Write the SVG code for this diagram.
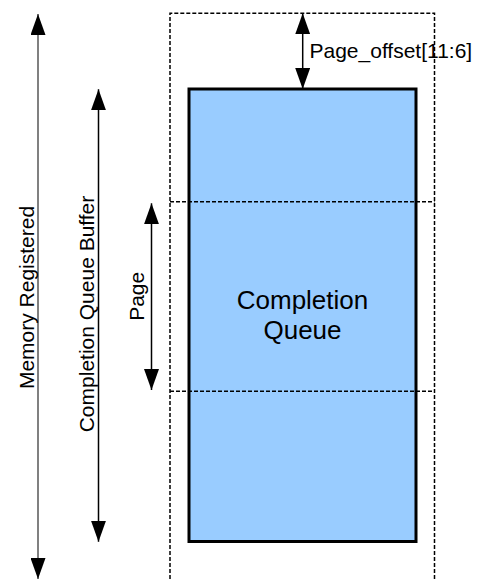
<svg xmlns="http://www.w3.org/2000/svg" width="477" height="579" viewBox="0 0 477 579">
  <style>
    text { font-family: "Liberation Sans", Arial, sans-serif; fill: #000; }
    .lbl { font-size: 21px; }
    .big { font-size: 26px; text-anchor: middle; }
    .dash { fill: none; stroke: #000; stroke-width: 1.5; stroke-dasharray: 4 2; }
    .arr { stroke: #000; stroke-width: 1.5; fill: none; marker-start: url(#ah); marker-end: url(#ah); }
    .gray { stroke: #808080; stroke-width: 2; }
  </style>
  <defs>
    <marker id="ah" markerUnits="userSpaceOnUse" markerWidth="21" markerHeight="15" viewBox="0 0 21 15" refX="21" refY="7.5" orient="auto-start-reverse">
      <path d="M0,0 L21,7.5 L0,15 z" fill="#000"/>
    </marker>
  </defs>

  <g id="completion-queue">
    <rect x="189" y="89" width="227" height="452.5" fill="#99ccff" stroke="#000" stroke-width="3"/>
    <text class="big" x="302.5" y="308.5">Completion</text>
    <text class="big" x="302.5" y="339">Queue</text>
  </g>

  <g id="page-offset-label">
    <text class="lbl" x="309.5" y="58">Page_offset[11:6]</text>
  </g>

  <g id="memory-registered-region">
    <path class="dash" d="M170,579 V13.3 H434.5 V579"/>
  </g>
  <g id="page-boundaries">
    <line class="dash" x1="170" y1="201.7" x2="434.5" y2="201.7"/>
    <line class="dash" x1="170" y1="391.3" x2="434.5" y2="391.3"/>
  </g>

  <g id="connectors">
    <line class="arr" x1="302.7" y1="13.3" x2="302.7" y2="89"/>
    <line class="arr gray" x1="38" y1="14" x2="38" y2="579"/>
    <line class="arr" x1="98.5" y1="89.3" x2="98.5" y2="541.7"/>
    <line class="arr" x1="151.5" y1="203.3" x2="151.5" y2="390"/>
  </g>

  <g id="labels">
    <text class="lbl" text-anchor="middle" x="33.5" y="297.5" transform="rotate(-90 33.5 297.5)">Memory Registered</text>
    <text class="lbl" text-anchor="middle" x="94" y="314" transform="rotate(-90 94 314)">Completion Queue Buffer</text>
    <text class="lbl" text-anchor="middle" x="144" y="296.3" transform="rotate(-90 144 296.3)">Page</text>
  </g>
</svg>
